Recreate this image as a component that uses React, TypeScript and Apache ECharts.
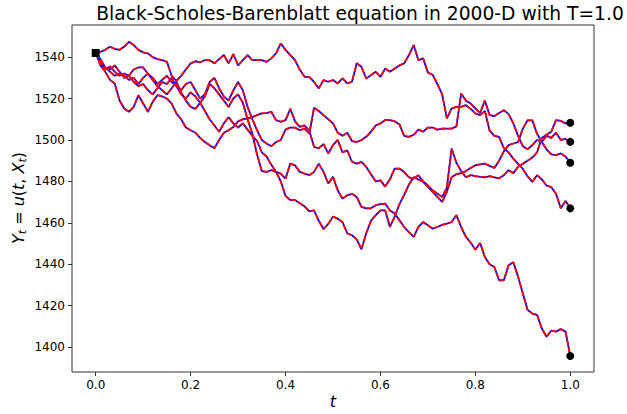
import React, { useEffect, useRef } from "react";
import * as echarts from "echarts";

// time grid: 100 steps on [0, 1]
const N_STEPS = 100;
const TIME: number[] = Array.from({ length: N_STEPS + 1 }, (_, i) => i / N_STEPS);

// sample path ending at ~1508
const pathA = [
  1542, 1536, 1533, 1529, 1527.3, 1519.2, 1515.2, 1513.6, 1516, 1521.6,
  1517.6, 1513.6, 1518.4, 1521.6, 1521, 1520, 1517.6, 1512.8, 1510, 1506,
  1504.7, 1503.5, 1501, 1499, 1497.5, 1496, 1500, 1503.5, 1504.7, 1506.3,
  1509, 1510, 1510.4, 1511, 1512, 1512.8, 1513, 1513.6, 1509.6, 1508.8,
  1509.6, 1515, 1509, 1506.3, 1507, 1504.5, 1496.7, 1496, 1498, 1493.5,
  1497.5, 1500, 1494, 1495, 1489.5, 1488.6, 1489.4, 1487, 1483.5, 1480,
  1480.5, 1477.5, 1481, 1486.2, 1486.2, 1484.5, 1482, 1481.4, 1483, 1480,
  1478, 1475.7, 1474.1, 1472.5, 1477, 1495.9, 1489, 1485, 1482, 1483,
  1482.5, 1482.2, 1482, 1482.5, 1482, 1481.5, 1483, 1485.4, 1484, 1487,
  1488.5, 1490, 1491.5, 1494, 1501, 1502.5, 1504, 1509.6, 1509.2, 1508,
  1508.3,
];

// sample path ending at ~1499
const pathB = [
  1542, 1537, 1534, 1535.5, 1533, 1531, 1532, 1531, 1534, 1535,
  1535, 1532, 1530, 1527, 1529, 1531, 1528, 1526, 1524, 1527,
  1528, 1524, 1520, 1522, 1528, 1530, 1525, 1521, 1519, 1524,
  1528, 1524, 1516, 1510, 1504.7, 1500, 1498.3, 1497, 1499, 1500,
  1505, 1506, 1506, 1504.7, 1505.5, 1503, 1515.5, 1514, 1512, 1510,
  1508, 1503.5, 1502, 1503.5, 1499.5, 1499, 1500, 1501.5, 1504, 1507,
  1508, 1509.6, 1509.6, 1509, 1507.5, 1502, 1501.5, 1502.5, 1505, 1504,
  1506, 1506, 1505, 1505.5, 1505.5, 1505.5, 1506.5, 1522.4, 1519, 1517.6,
  1515.2, 1513, 1519, 1512, 1511.5, 1513, 1514.4, 1512.5, 1508, 1502,
  1497, 1495.5, 1497.5, 1500, 1499, 1502, 1501, 1503.5, 1500, 1500.5,
  1499.1,
];

// sample path ending at ~1489
const pathC = [
  1542, 1538, 1535, 1533, 1531, 1532, 1531, 1529, 1530, 1527,
  1530, 1532, 1529, 1526, 1524, 1522, 1525, 1528, 1523, 1519,
  1516, 1515, 1518, 1514, 1510, 1507, 1504, 1508, 1511, 1508,
  1506, 1508, 1505, 1502, 1499.5, 1494, 1492, 1488, 1484.6, 1480,
  1473, 1471, 1471, 1469.5, 1468, 1465.5, 1466, 1461, 1457, 1459.5,
  1463, 1462, 1460.4, 1455, 1454, 1452, 1447.2, 1455, 1461, 1463.7,
  1466, 1466, 1458, 1463, 1469, 1473.5, 1478.5, 1482, 1481, 1479.8,
  1477.4, 1475, 1472.5, 1470.1, 1475, 1482, 1483.5, 1484, 1485, 1486.5,
  1487.8, 1488.2, 1488.6, 1487.5, 1486.5, 1490, 1494.5, 1497.5, 1498.3, 1499,
  1505.5, 1509.5, 1509.5, 1503, 1499, 1495.5, 1493, 1492.7, 1493.5, 1492,
  1489,
];

// sample path ending at ~1467
const pathD = [
  1542, 1542.5, 1543.5, 1545, 1544, 1543.5, 1545, 1547.4, 1545.8, 1543.5,
  1542.3, 1541.8, 1540, 1539, 1538.5, 1537.7, 1531, 1528.5, 1531, 1534,
  1537, 1538, 1537.5, 1538.5, 1538.5, 1537, 1539, 1541, 1537, 1541.4,
  1536, 1538.5, 1541, 1538.5, 1538.5, 1538.5, 1537.7, 1539.4, 1541.8, 1546.6,
  1543.5, 1541, 1538.5, 1534, 1530.5, 1530.5, 1528, 1524.9, 1528.9, 1528.1,
  1528.9, 1527.3, 1529.7, 1527.3, 1528.1, 1537, 1535.3, 1529.7, 1531.3, 1532.9,
  1530.5, 1534.5, 1532.9, 1534.5, 1536, 1537, 1541, 1545.8, 1538.5, 1539.4,
  1532.5, 1531.5, 1527, 1522, 1510.4, 1515.2, 1516, 1516, 1516.8, 1515,
  1512.8, 1512, 1514, 1504.5, 1502, 1501.5, 1496, 1494, 1491, 1488.5,
  1486, 1482.5, 1479.8, 1483, 1481, 1478, 1477.2, 1474, 1467, 1470.5,
  1467,
];

// sample path ending at ~1396
const pathE = [
  1542, 1539, 1535, 1534, 1536, 1533, 1530, 1531, 1528, 1526,
  1527, 1524, 1522, 1525, 1528, 1527, 1530, 1526, 1522, 1520,
  1523, 1521, 1518, 1521, 1527, 1525, 1522, 1519, 1516, 1520,
  1522, 1518, 1510, 1503, 1493, 1485, 1484.6, 1485.4, 1484.6, 1483.8,
  1481.4, 1488.6, 1487.8, 1484.6, 1483.8, 1483, 1484.6, 1488.6, 1484.6, 1479,
  1482.2, 1475.7, 1471.7, 1473.3, 1474, 1472.5, 1467.7, 1467, 1467, 1468.5,
  1469, 1469.3, 1466, 1464.5, 1461.3, 1458, 1455.5, 1453.2, 1458, 1460.4,
  1458.8, 1457.2, 1458, 1459, 1459.6, 1460.4, 1463.7, 1458, 1453.2, 1450.5,
  1447, 1450.3, 1443.5, 1440, 1438.7, 1432.3, 1432.3, 1439.5, 1441, 1434,
  1426, 1418, 1416.2, 1415.6, 1409, 1405, 1408, 1407.5, 1408.7, 1407.5,
  1395.7,
];

const PATHS = [pathA, pathB, pathC, pathD, pathE];

const X_TICKS = [0, 0.2, 0.4, 0.6, 0.8, 1.0];
const Y_TICKS = [1400, 1420, 1440, 1460, 1480, 1500, 1520, 1540];

const TITLE = "Black-Scholes-Barenblatt equation in 2000-D with T=1.0";

export default function App() {
  const ref = useRef<HTMLDivElement>(null);

  useEffect(() => {
    if (!ref.current) return;
    const chart = echarts.init(ref.current, null, { renderer: "svg" });
    const font = "DejaVu Sans";

    const series: any[] = [];
    PATHS.forEach((p) => {
      series.push({
        type: "line",
        data: p.map((v, i) => [TIME[i], v]),
        showSymbol: false,
        silent: true,
        z: 2,
        lineStyle: { color: "#0000ff", width: 1.8 },
      });
    });
    PATHS.forEach((p) => {
      series.push({
        type: "line",
        data: p.map((v, i) => [TIME[i], v]),
        showSymbol: false,
        silent: true,
        z: 3,
        lineStyle: { color: "#ff0000", width: 1.8, type: [5.5, 2.4] },
      });
    });
    series.push({
      type: "scatter",
      data: PATHS.map((p) => [TIME[TIME.length - 1], p[p.length - 1]]),
      symbol: "circle",
      symbolSize: 8,
      silent: true,
      z: 4,
      itemStyle: { color: "#000000", opacity: 1 },
    });
    series.push({
      type: "scatter",
      data: [[TIME[0], PATHS[0][0]]],
      symbol: "rect",
      symbolSize: 8,
      silent: true,
      z: 4,
      itemStyle: { color: "#000000", opacity: 1 },
    });

    chart.setOption({
      animation: false,
      backgroundColor: "#ffffff",
      grid: {
        left: 72,
        top: 25,
        right: 33,
        bottom: 42,
        show: true,
        borderColor: "#333333",
        borderWidth: 1,
        backgroundColor: "#ffffff",
      },
      xAxis: {
        type: "value",
        min: -0.05,
        max: 1.05,
        axisLine: { show: false, onZero: false },
        splitLine: { show: false },
        axisTick: {
          show: true,
          customValues: X_TICKS,
          length: 4,
          lineStyle: { color: "#333333", width: 1 },
        },
        axisLabel: {
          customValues: X_TICKS,
          formatter: (v: number) => v.toFixed(1),
          color: "#000000",
          fontFamily: font,
          fontSize: 12,
          margin: 7,
        },
      },
      yAxis: {
        type: "value",
        min: 1388,
        max: 1555.5,
        axisLine: { show: false, onZero: false },
        splitLine: { show: false },
        axisTick: {
          show: true,
          customValues: Y_TICKS,
          length: 4,
          lineStyle: { color: "#333333", width: 1 },
        },
        axisLabel: {
          customValues: Y_TICKS,
          formatter: (v: number) => String(v),
          color: "#000000",
          fontFamily: font,
          fontSize: 12,
          margin: 7,
        },
      },
      graphic: [
        {
          type: "text",
          x: 360,
          y: 13,
          style: {
            text: TITLE,
            fill: "#000000",
            fontFamily: font,
            fontSize: 18.7,
            align: "center",
            verticalAlign: "middle",
          },
        },
        {
          type: "text",
          x: 333,
          y: 401,
          style: {
            text: "t",
            fill: "#000000",
            fontFamily: font,
            fontStyle: "italic",
            fontSize: 16,
            align: "center",
            verticalAlign: "middle",
          },
        },
        {
          type: "text",
          x: 18,
          y: 198,
          rotation: Math.PI / 2,
          style: {
            text: "{i|Y}{s|t}{n| = }{i|u}{n|(}{i|t}{n|, }{i|X}{s|t}{n|)}",
            fill: "#000000",
            align: "center",
            verticalAlign: "middle",
            rich: {
              i: { fontFamily: font, fontStyle: "italic", fontSize: 16, fill: "#000000" },
              n: { fontFamily: font, fontSize: 16, fill: "#000000" },
              s: {
                fontFamily: font,
                fontStyle: "italic",
                fontSize: 11,
                fill: "#000000",
                padding: [9, 0, 0, 0],
              },
            },
          },
        },
      ],
      series,
    });

    return () => chart.dispose();
  }, []);

  return (
    <div
      ref={ref}
      style={{ position: "fixed", left: 0, top: 0, width: 627, height: 414 }}
    />
  );
}
